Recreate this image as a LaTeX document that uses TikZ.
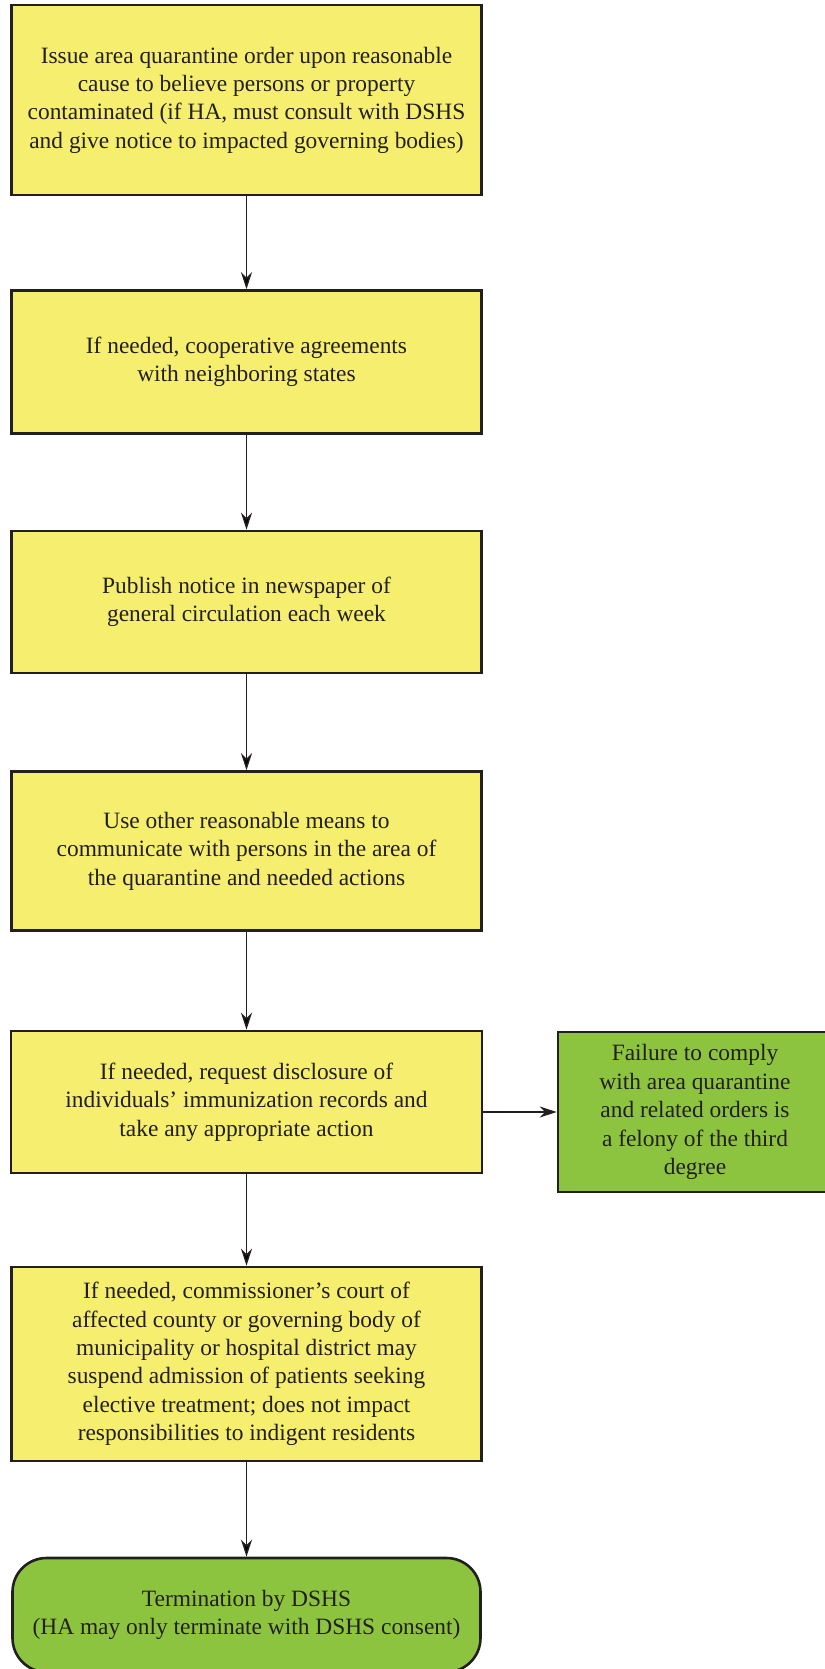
\documentclass[tikz,border=0pt]{standalone}
\usepackage{fontspec}
\setmainfont{Liberation Serif}
\usetikzlibrary{arrows.meta}

\definecolor{boxyellow}{RGB}{246,238,111}
\definecolor{boxgreen}{RGB}{141,196,63}
\definecolor{boxline}{RGB}{35,31,32}

\tikzset{
    stepbox/.style={shape=rectangle,draw=boxline,line width=2.6bp,fill=boxyellow,
        align=center,inner sep=0pt,font=\fontsize{23.5}{28.5}\selectfont,text=boxline},
    penaltybox/.style={stepbox,fill=boxgreen},
    endbox/.style={stepbox,fill=boxgreen,rounded corners=34bp},
    flow/.style={draw=boxline,line width=1.4bp,-{Stealth[length=17bp,width=11bp]}}
}

\begin{document}
\begin{tikzpicture}[x=1bp,y=-1bp]

        \useasboundingbox (0,0) rectangle (825,1669);

        \node[stepbox,minimum width=470bp,minimum height=190bp] (order) at (246.5,100)
            {Issue area quarantine order upon reasonable\\cause to believe persons or property\\contaminated (if HA, must consult with DSHS\\and give notice to impacted governing bodies)};
        \node[stepbox,minimum width=470bp,minimum height=143bp] (agree) at (246.5,362)
            {If needed, cooperative agreements\\with neighboring states};
        \node[stepbox,minimum width=470bp,minimum height=142bp] (publish) at (246.5,602)
            {Publish notice in newspaper of\\general circulation each week};
        \node[stepbox,minimum width=470bp,minimum height=159bp] (comm) at (246.5,851)
            {Use other reasonable means to\\communicate with persons in the area of\\the quarantine and needed actions};
        \node[stepbox,minimum width=471bp,minimum height=142bp] (records) at (246.5,1102)
            {If needed, request disclosure of\\individuals' immunization records and\\take any appropriate action};
        \node[penaltybox,minimum width=274bp,minimum height=160bp] (felony) at (695,1112)
            {Failure to comply\\with area quarantine\\and related orders is\\a felony of the third\\degree};
        \node[stepbox,minimum width=470bp,minimum height=194bp] (suspend) at (246.5,1364)
            {If needed, commissioner's court of\\affected county or governing body of\\municipality or hospital district may\\suspend admission of patients seeking\\elective treatment; does not impact\\responsibilities to indigent residents};
        \node[endbox,minimum width=468bp,minimum height=114bp] (term) at (246.5,1615)
            {Termination by DSHS\\(HA may only terminate with DSHS consent)};

        \path[flow] (order) edge (agree);
        \path[flow] (agree) edge (publish);
        \path[flow] (publish) edge (comm);
        \path[flow] (comm) edge (records);
        \path[flow] (records) edge (suspend);
        \path[flow] (suspend) edge (term);
        \draw[flow] (records.east |- felony.west) -- (felony.west);

\end{tikzpicture}
\end{document}
